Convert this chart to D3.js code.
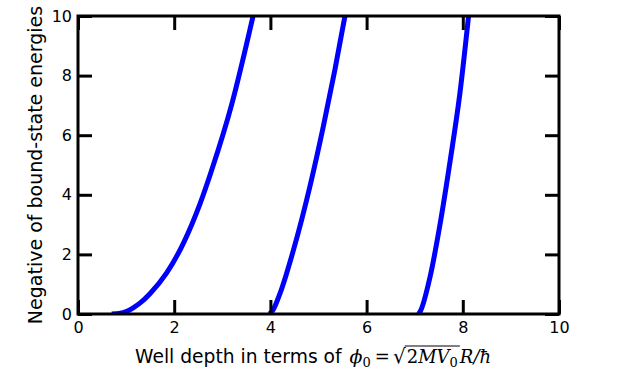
<!DOCTYPE html>
<html>
<head>
<meta charset="utf-8">
<title>Bound-state energies</title>
<script src="https://d3js.org/d3.v7.min.js"></script>
<style>
  body { margin: 0; background: #fff; }
  svg { display: block; }
  .tick text { font-family: "DejaVu Sans", sans-serif; font-size: 16px; fill: #000; }
</style>
</head>
<body>
<svg width="623" height="385"></svg>
<script>
// values (phi0 -> -E)
var curve1X = [0.70, 0.85, 1.00, 1.14, 1.30, 1.50, 1.84, 2.19, 2.54, 2.78, 3.19, 3.64];
var curve1Y = [0.00, 0.02, 0.08, 0.20, 0.38, 0.69, 1.37, 2.37, 3.71, 4.83, 7.00, 10.0];
var curve2X = [3.98, 4.05, 4.20, 4.48, 4.82, 5.10, 5.34, 5.55];
var curve2Y = [0.00, 0.12, 0.69, 2.15, 4.27, 6.29, 8.19, 10.0];
var curve3X = [7.08, 7.12, 7.32, 7.53, 7.74, 7.94, 8.12];
var curve3Y = [0.00, 0.10, 1.25, 3.04, 5.17, 7.41, 10.0];
var xTicks = [0, 2, 4, 6, 8, 10];
var yTicks = [0, 2, 4, 6, 8, 10];

var svg = d3.select("svg"),
    pL = 78, pR = 559, pT = 16, pB = 314;

var x = d3.scaleLinear().domain([0, 10]).range([pL, pR]);
var y = d3.scaleLinear().domain([0, 10]).range([pB, pT]);

svg.append("defs").append("clipPath").attr("id", "clip")
  .append("rect").attr("x", pL).attr("y", pT)
  .attr("width", pR - pL).attr("height", pB - pT);

var series = [[curve1X, curve1Y], [curve2X, curve2Y], [curve3X, curve3Y]];
var line = d3.line()
    .x(function(d) { return x(d[0]); })
    .y(function(d) { return y(d[1]); })
    .curve(d3.curveMonotoneX);

svg.append("g").attr("clip-path", "url(#clip)")
  .selectAll("path").data(series).enter().append("path")
  .attr("d", function(s) { return line(d3.zip(s[0], s[1])); })
  .attr("fill", "none")
  .attr("stroke", "#0000ff")
  .attr("stroke-width", 5);

// axes, ticks pointing inwards on all sides
function style(g, lbl) {
  g.select(".domain").remove();
  g.selectAll(".tick line").attr("stroke", "#000").attr("stroke-width", 3);
  if (!lbl) g.selectAll(".tick text").remove();
}
svg.append("g").attr("transform", "translate(0," + pB + ")")
  .call(d3.axisBottom(x).tickValues(xTicks).tickSizeInner(-14).tickSizeOuter(0).tickPadding(8))
  .call(style, true);
svg.append("g").attr("transform", "translate(0," + pT + ")")
  .call(d3.axisTop(x).tickValues(xTicks).tickSizeInner(-14).tickSizeOuter(0))
  .call(style, false);
svg.append("g").attr("transform", "translate(" + pL + ",0)")
  .call(d3.axisLeft(y).tickValues(yTicks).tickSizeInner(-14).tickSizeOuter(0).tickPadding(6))
  .call(style, true);
svg.append("g").attr("transform", "translate(" + pR + ",0)")
  .call(d3.axisRight(y).tickValues(yTicks).tickSizeInner(-14).tickSizeOuter(0))
  .call(style, false);

svg.append("rect")
  .attr("x", pL).attr("y", pT)
  .attr("width", pR - pL).attr("height", pB - pT)
  .attr("fill", "none").attr("stroke", "#000").attr("stroke-width", 3);

// x label, pieces placed one after another
var base = 363, cx = 135;
function piece(txt, fam, italic, size, dy, gap) {
  var t = svg.append("text")
    .attr("x", cx).attr("y", base + (dy || 0))
    .style("font-family", fam).style("font-size", size + "px")
    .style("font-style", italic ? "italic" : "normal")
    .attr("fill", "#000")
    .text(txt);
  var w = t.node().getComputedTextLength();
  var x0 = cx;
  cx += w + (gap || 0);
  return [x0, cx];
}
piece("Well depth in terms of", "DejaVu Sans", false, 18.7, 0, 8);
piece("\u03D5", "DejaVu Serif", true, 19, 0, 0);
piece("0", "DejaVu Serif", false, 13, 4, 4);
piece("=", "DejaVu Serif", false, 18, 0, 3);
var rad = piece("\u221A", "DejaVu Sans", false, 20, 0, 1);
piece("2", "DejaVu Serif", false, 18, 0, 0);
piece("MV", "DejaVu Serif", true, 18, 0, 0);
var last = piece("0", "DejaVu Serif", false, 13, 4, 2);
svg.append("line")
  .attr("x1", rad[1] - 2).attr("x2", last[1])
  .attr("y1", base - 17).attr("y2", base - 17)
  .attr("stroke", "#000").attr("stroke-width", 1);
piece("R", "DejaVu Serif", true, 18, 0, 0);
piece("/\u0127", "DejaVu Serif", true, 18, 0, 0);

svg.append("text")
  .attr("text-anchor", "middle")
  .style("font-family", "DejaVu Sans").style("font-size", "19px")
  .attr("transform", "translate(42," + ((pT + pB) / 2) + ") rotate(-90)")
  .text("Negative of bound-state energies");
</script>
</body>
</html>
